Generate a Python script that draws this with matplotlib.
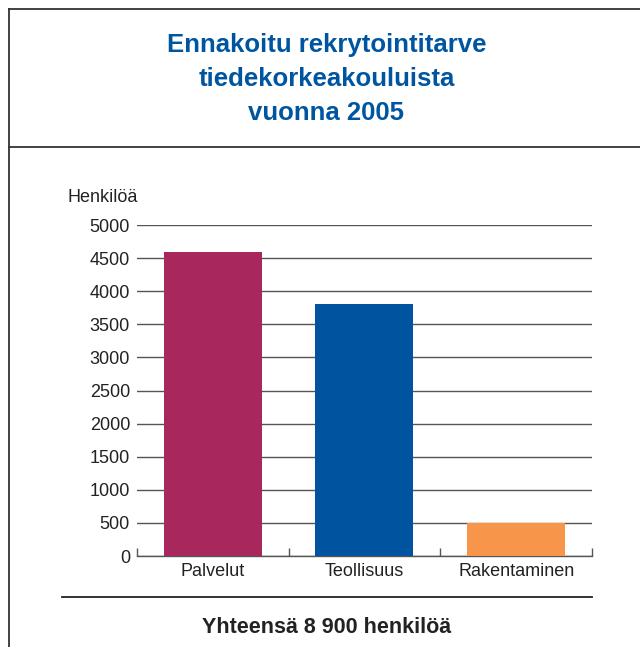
import matplotlib.pyplot as plt
from matplotlib.lines import Line2D

categories = ['Palvelut', 'Teollisuus', 'Rakentaminen']
values = [4600, 3800, 500]
colors = ['#A8285E', '#00549F', '#F7964A']
yticks = [0, 500, 1000, 1500, 2000, 2500, 3000, 3500, 4000, 4500, 5000]
title_lines = ['Ennakoitu rekrytointitarve', 'tiedekorkeakouluista', 'vuonna 2005']
footer = 'Yhteensä 8 900 henkilöä'
unit = 'Henkilöä'

plt.rcParams['font.family'] = ['Liberation Sans', 'DejaVu Sans']

fig = plt.figure(figsize=(6.4, 6.47), dpi=100)
ax = fig.add_axes([0.214, 0.1406, 0.711, 0.5116])

x = range(len(categories))
ax.bar(x, values, width=0.646, color=colors, zorder=3)

ax.set_ylim(0, 5000)
ax.set_xlim(-0.5, len(categories) - 0.5)
ax.set_yticks(yticks)
ax.set_yticklabels([str(v) for v in yticks], fontsize=13, color='#222222')
ax.yaxis.grid(True, color='#555555', linewidth=1, zorder=0)
ax.set_xticks(list(x))
ax.set_xticklabels(categories, fontsize=13, color='#222222')
ax.set_xticks([i - 0.5 for i in range(len(categories) + 1)], minor=True)
ax.tick_params(axis='x', which='major', length=0, pad=5)
ax.tick_params(axis='x', which='minor', direction='in', length=6, color='#555555', width=1)
ax.tick_params(axis='y', length=0, pad=5)
for s in ['top', 'right', 'left']:
    ax.spines[s].set_visible(False)
ax.spines['bottom'].set_color('#555555')
ax.spines['bottom'].set_linewidth(1)

# title
for i, line in enumerate(title_lines):
    fig.text(0.51, 0.931 - i * 0.0525, line, ha='center', va='center',
             fontsize=18.5, fontweight='bold', color='#0055A0')

fig.text(0.106, 0.694, unit, ha='left', va='center', fontsize=13, color='#222222')
fig.text(0.51, 0.0294, footer, ha='center', va='center', fontsize=15.5,
         fontweight='bold', color='#222222')

# frame lines
lc = '#333333'
fig.add_artist(Line2D([0.014, 1], [0.986, 0.986], color=lc, lw=1.3))
fig.add_artist(Line2D([0.014, 0.014], [0, 0.986], color=lc, lw=1.3))
fig.add_artist(Line2D([0.014, 1], [0.773, 0.773], color=lc, lw=1.3))
fig.add_artist(Line2D([0.097, 0.925], [0.0773, 0.0773], color='#222222', lw=1.3))

fig.savefig('out.png', dpi=100)
